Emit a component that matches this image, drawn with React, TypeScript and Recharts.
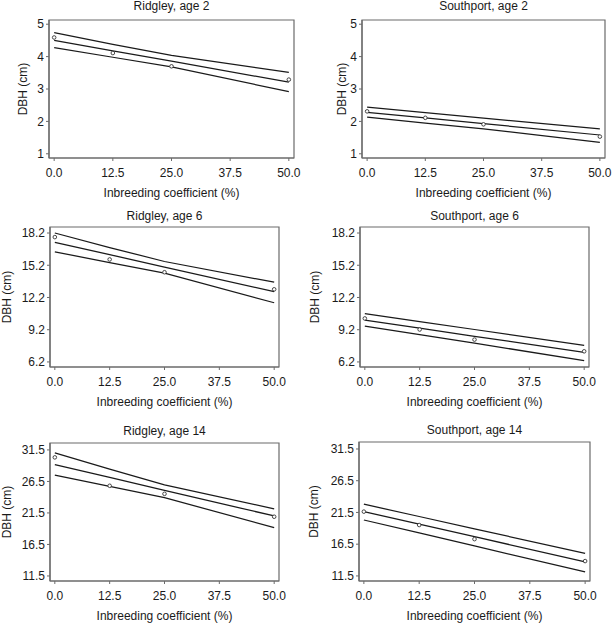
import {
	ComposedChart,
	Line,
	ReferenceArea,
	XAxis,
	YAxis
} from "recharts"


// x positions of the four inbreeding levels
const inbreeding = [0, 12.5, 25, 50]
const xTicks = [0, 12.5, 25, 37.5, 50]

const ticksAge2 = [1, 2, 3, 4, 5]
const ticksAge6 = [6.2, 9.2, 12.2, 15.2, 18.2]
const ticksAge14 = [11.5, 16.5, 21.5, 26.5, 31.5]

// Ridgley, age 2
const ridgley2Obs = [4.59, 4.11, 3.70, 3.29]
const ridgley2Fit = [4.50, 4.18, 3.86, 3.21]
const ridgley2Upper = [4.74, 4.38, 4.04, 3.51]
const ridgley2Lower = [4.28, 3.98, 3.68, 2.92]

// Southport, age 2
const southport2Obs = [2.31, 2.11, 1.91, 1.53]
const southport2Fit = [2.28, 2.11, 1.93, 1.58]
const southport2Upper = [2.44, 2.27, 2.10, 1.77]
const southport2Lower = [2.13, 1.95, 1.77, 1.35]

// Ridgley, age 6
const ridgley6Obs = [17.82, 15.74, 14.55, 12.96]
const ridgley6Fit = [17.33, 16.18, 15.03, 12.74]
const ridgley6Upper = [18.20, 16.85, 15.55, 13.62]
const ridgley6Lower = [16.45, 15.45, 14.46, 11.71]

// Southport, age 6
const southport6Obs = [10.25, 9.22, 8.28, 7.19]
const southport6Fit = [10.09, 9.34, 8.59, 7.10]
const southport6Upper = [10.69, 9.96, 9.22, 7.75]
const southport6Lower = [9.53, 8.74, 7.95, 6.32]

// Ridgley, age 14
const ridgley14Obs = [30.32, 25.81, 24.53, 20.90]
const ridgley14Fit = [29.16, 27.13, 25.09, 21.02]
const ridgley14Upper = [31.02, 28.45, 25.97, 22.14]
const ridgley14Lower = [27.51, 25.72, 23.94, 19.16]

// Southport, age 14
const southport14Obs = [21.63, 19.52, 17.30, 13.84]
const southport14Fit = [21.63, 19.65, 17.68, 13.72]
const southport14Upper = [22.80, 20.86, 18.92, 15.04]
const southport14Lower = [20.31, 18.27, 16.22, 12.13]


const X_DOMAIN: [number, number] = [-1.1, 51.1]
const INK = "#1a1a1a"
const FRAME = "#6b6b6b"
const Y_AXIS_W = 58
const X_AXIS_H = 42
const TOP = 22
const RIGHT = 8


type Panel = {
	title: string
	obs: number[]
	fit: number[]
	upper: number[]
	lower: number[]
	yTicks: number[]
	yDomain: [number, number]
	digits: number
	box: { left: number; top: number; width: number; height: number }
	titleGap: number
	yLabelGap: number
}


const panels: Panel[] = [
	{
		title: "Ridgley, age 2",
		obs: ridgley2Obs, fit: ridgley2Fit, upper: ridgley2Upper, lower: ridgley2Lower,
		yTicks: ticksAge2, yDomain: [0.87, 5.13], digits: 0,
		box: { left: 49, top: 20, width: 245, height: 138 },
		titleGap: 14, yLabelGap: 26
	},
	{
		title: "Southport, age 2",
		obs: southport2Obs, fit: southport2Fit, upper: southport2Upper, lower: southport2Lower,
		yTicks: ticksAge2, yDomain: [0.87, 5.13], digits: 0,
		box: { left: 362, top: 20, width: 243, height: 138 },
		titleGap: 14, yLabelGap: 20
	},
	{
		title: "Ridgley, age 6",
		obs: ridgley6Obs, fit: ridgley6Fit, upper: ridgley6Upper, lower: ridgley6Lower,
		yTicks: ticksAge6, yDomain: [5.73, 18.76], digits: 1,
		box: { left: 50, top: 227, width: 229, height: 140 },
		titleGap: 11, yLabelGap: 43
	},
	{
		title: "Southport, age 6",
		obs: southport6Obs, fit: southport6Fit, upper: southport6Upper, lower: southport6Lower,
		yTicks: ticksAge6, yDomain: [5.73, 18.76], digits: 1,
		box: { left: 360, top: 227, width: 229, height: 140 },
		titleGap: 11, yLabelGap: 45
	},
	{
		title: "Ridgley, age 14",
		obs: ridgley14Obs, fit: ridgley14Fit, upper: ridgley14Upper, lower: ridgley14Lower,
		yTicks: ticksAge14, yDomain: [10.7, 32.6], digits: 1,
		box: { left: 50, top: 443, width: 229, height: 138 },
		titleGap: 12, yLabelGap: 43
	},
	{
		title: "Southport, age 14",
		obs: southport14Obs, fit: southport14Fit, upper: southport14Upper, lower: southport14Lower,
		yTicks: ticksAge14, yDomain: [10.7, 32.6], digits: 1,
		box: { left: 359, top: 442, width: 231, height: 139 },
		titleGap: 12, yLabelGap: 45
	}
]


function DbhPanel({ p }: { p: Panel }) {

	const rows = inbreeding.map((x, i) => ({
		x,
		obs: p.obs[i],
		fit: p.fit[i],
		upper: p.upper[i],
		lower: p.lower[i]
	}))

	const width = p.box.width + Y_AXIS_W + RIGHT
	const height = p.box.height + TOP + X_AXIS_H

	const lineProps = {
		type: "linear" as const,
		stroke: INK,
		strokeWidth: 1.25,
		dot: false,
		isAnimationActive: false
	}

	return (
		<div
			style={{
				position: "absolute",
				left: p.box.left - Y_AXIS_W,
				top: p.box.top - TOP
			}}
		>
			<ComposedChart
				width={width}
				height={height}
				data={rows}
				margin={{ top: TOP, right: RIGHT, bottom: 0, left: 0 }}
			>

				<ReferenceArea
					x1={X_DOMAIN[0]}
					x2={X_DOMAIN[1]}
					y1={p.yDomain[0]}
					y2={p.yDomain[1]}
					fill="none"
					stroke={FRAME}
					strokeWidth={1.2}
					ifOverflow="visible"
					label={{
						value: p.title,
						position: "top",
						offset: p.titleGap - 4.3,
						fill: INK,
						fontSize: 12
					}}
				/>

				<XAxis
					dataKey="x"
					type="number"
					domain={X_DOMAIN}
					ticks={xTicks}
					interval={0}
					allowDataOverflow
					height={X_AXIS_H}
					axisLine={{ stroke: FRAME, strokeWidth: 1.2 }}
					tickLine={{ stroke: FRAME }}
					tickSize={3}
					tickMargin={7}
					tick={{ fontSize: 12, fill: INK }}
					tickFormatter={v => Number(v).toFixed(1)}
					label={{
						value: "Inbreeding coefficient (%)",
						position: "insideBottom",
						offset: 3,
						fill: INK,
						fontSize: 12
					}}
				/>

				<YAxis
					type="number"
					domain={p.yDomain}
					ticks={p.yTicks}
					interval={0}
					allowDataOverflow
					width={Y_AXIS_W}
					axisLine={{ stroke: FRAME, strokeWidth: 1.2 }}
					tickLine={{ stroke: FRAME }}
					tickSize={3}
					tickMargin={2}
					tick={{ fontSize: 12, fill: INK }}
					tickFormatter={v => Number(v).toFixed(p.digits)}
					label={{
						value: "DBH (cm)",
						angle: -90,
						position: "insideLeft",
						offset: Y_AXIS_W - p.yLabelGap,
						fill: INK,
						fontSize: 12,
						style: { textAnchor: "middle" }
					}}
				/>

				<Line dataKey="upper" {...lineProps} />
				<Line dataKey="fit" {...lineProps} />
				<Line dataKey="lower" {...lineProps} />

				<Line
					dataKey="obs"
					stroke="none"
					isAnimationActive={false}
					dot={{ r: 1.8, fill: "#ffffff", stroke: "#333333", strokeWidth: 0.9 }}
				/>

			</ComposedChart>
		</div>
	)
}


export default function App() {
	return (
		<div
			style={{
				position: "absolute",
				left: 0,
				top: 0,
				width: 613,
				height: 623,
				overflow: "hidden",
				background: "#ffffff",
				fontFamily: "'Liberation Sans', Arial, sans-serif"
			}}
		>
			{panels.map(p => (
				<DbhPanel key={p.title} p={p} />
			))}
		</div>
	)
}
